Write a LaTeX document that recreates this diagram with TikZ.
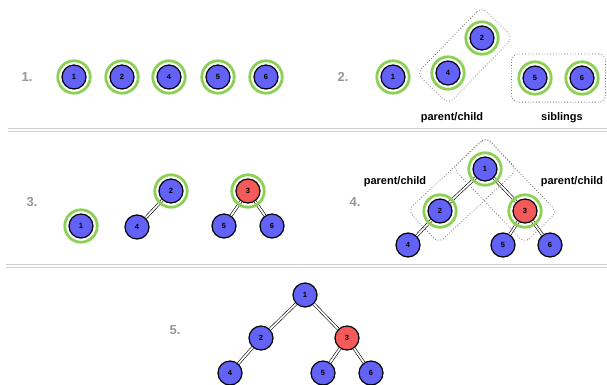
\documentclass[tikz,border=0pt]{standalone}
\usepackage{fontspec}
\setmainfont{Liberation Sans}
\usetikzlibrary{fit,calc}
\definecolor{nblue}{RGB}{98,98,246}
\definecolor{nred}{RGB}{244,90,90}
\definecolor{ngreen}{RGB}{140,208,84}
\definecolor{sepgray}{RGB}{208,208,208}
\definecolor{lblgray}{RGB}{150,150,150}
\begin{document}
\begin{tikzpicture}[x=1pt,y=-1pt,
  vtx/.style={circle, draw=black, line width=1.2pt, fill=nblue, minimum size=24pt, inner sep=0pt, font=\bfseries\fontsize{7.5}{8}\selectfont},
  hot/.style={vtx, fill=nred},
  ring/.style={draw=ngreen, line width=2.8pt},
  edge/.style={draw=black, double=white, line width=0.6pt, double distance=1.8pt},
  grp/.style={draw=black!55, dotted, line width=0.8pt, rounded corners=7pt, rectangle, inner sep=0pt},
  rowlabel/.style={text=lblgray, font=\bfseries\fontsize{13}{15}\selectfont},
  caption/.style={font=\bfseries\fontsize{11}{13}\selectfont},
  sep/.style={draw=sepgray, line width=1pt}]
\useasboundingbox (0,0) rectangle (607,384);

% separators
\coordinate (s1a) at (8,128); \coordinate (s1b) at (607,128);
\coordinate (s2a) at (8,131.5); \coordinate (s2b) at (607,131.5);
\coordinate (s3a) at (6,264); \coordinate (s3b) at (607,264);
\coordinate (s4a) at (6,267.5); \coordinate (s4b) at (607,267.5);
\draw[sep] (s1a) -- (s1b);
\draw[sep] (s2a) -- (s2b);
\draw[sep] (s3a) -- (s3b);
\draw[sep] (s4a) -- (s4b);

% row labels
\node[rowlabel] (l1) at (27,77) {1.};
\node[rowlabel] (l2) at (343,77) {2.};
\node[rowlabel] (l3) at (32,202) {3.};
\node[rowlabel] (l4) at (355,202) {4.};
\node[rowlabel] (l5) at (175,330) {5.};

% row 1
\node[vtx] (a1) at (74,77) {1};
\node[vtx] (a2) at (122,77) {2};
\node[vtx] (a4) at (169,77) {4};
\node[vtx] (a5) at (218,77) {5};
\node[vtx] (a6) at (266,77) {6};
\foreach \n in {a1,a2,a4,a5,a6} \draw[ring] (\n) circle (16.2);

% row 2
\node[vtx] (b1) at (393,77) {1};
\node[vtx] (b4) at (448,73) {4};
\node[vtx] (b2) at (482,38) {2};
\node[vtx] (b5) at (535,78) {5};
\node[vtx] (b6) at (582,78) {6};
\foreach \n in {b1,b4,b2,b5,b6} \draw[ring] (\n) circle (16.2);
\path let \p1=($(b2)-(b4)$), \n1={veclen(\x1,\y1)}, \n2={atan2(\y1,\x1)} in
  node[grp, rotate=\n2, minimum width=\n1+44pt, minimum height=44pt] (g1) at ($(b4)!0.5!(b2)$) {};
\node[grp, fit=(b5)(b6), inner xsep=11pt, inner ysep=11.5pt] (g2) {};
\node[caption] (t1) at (452,118) {parent/child};
\node[caption] (t2) at (562,118) {siblings};

% row 3
\node[vtx] (c1) at (81,226) {1};
\node[vtx] (c4) at (137,227) {4};
\node[vtx] (c2) at (171,191) {2};
\node[hot] (c3) at (248,191) {3};
\node[vtx] (c5) at (224,226) {5};
\node[vtx] (c6) at (272,226) {6};
\draw[edge] (c2) -- (c4);
\draw[edge] (c3) -- (c5);
\draw[edge] (c3) -- (c6);
\foreach \n in {c1,c2,c3} \draw[ring] (\n) circle (16.2);

% row 4
\node[vtx] (d1) at (485,169) {1};
\node[vtx] (d2) at (440,211) {2};
\node[hot] (d3) at (525,211) {3};
\node[vtx] (d4) at (408,245) {4};
\node[vtx] (d5) at (503,245) {5};
\node[vtx] (d6) at (550,245) {6};
\draw[edge] (d1) -- (d2);
\draw[edge] (d1) -- (d3);
\draw[edge] (d2) -- (d4);
\draw[edge] (d3) -- (d5);
\draw[edge] (d3) -- (d6);
\foreach \n in {d1,d2,d3} \draw[ring] (\n) circle (16.2);
\path let \p1=($(d1)-(d2)$), \n1={veclen(\x1,\y1)}, \n2={atan2(\y1,\x1)} in
  node[grp, rotate=\n2, minimum width=\n1+46pt, minimum height=45pt] (g3) at ($(d2)!0.5!(d1)$) {};
\path let \p1=($(d3)-(d1)$), \n1={veclen(\x1,\y1)}, \n2={atan2(\y1,\x1)} in
  node[grp, rotate=\n2, minimum width=\n1+46pt, minimum height=45pt] (g4) at ($(d1)!0.5!(d3)$) {};
\node[caption] (t3) at (395,182) {parent/child};
\node[caption] (t4) at (572,182) {parent/child};

% row 5
\node[vtx] (e1) at (305,295) {1};
\node[vtx] (e2) at (261,338) {2};
\node[hot] (e3) at (347,338) {3};
\node[vtx] (e4) at (230,373) {4};
\node[vtx] (e5) at (323,373) {5};
\node[vtx] (e6) at (371,373) {6};
\draw[edge] (e1) -- (e2);
\draw[edge] (e1) -- (e3);
\draw[edge] (e2) -- (e4);
\draw[edge] (e3) -- (e5);
\draw[edge] (e3) -- (e6);
\end{tikzpicture}
\end{document}
